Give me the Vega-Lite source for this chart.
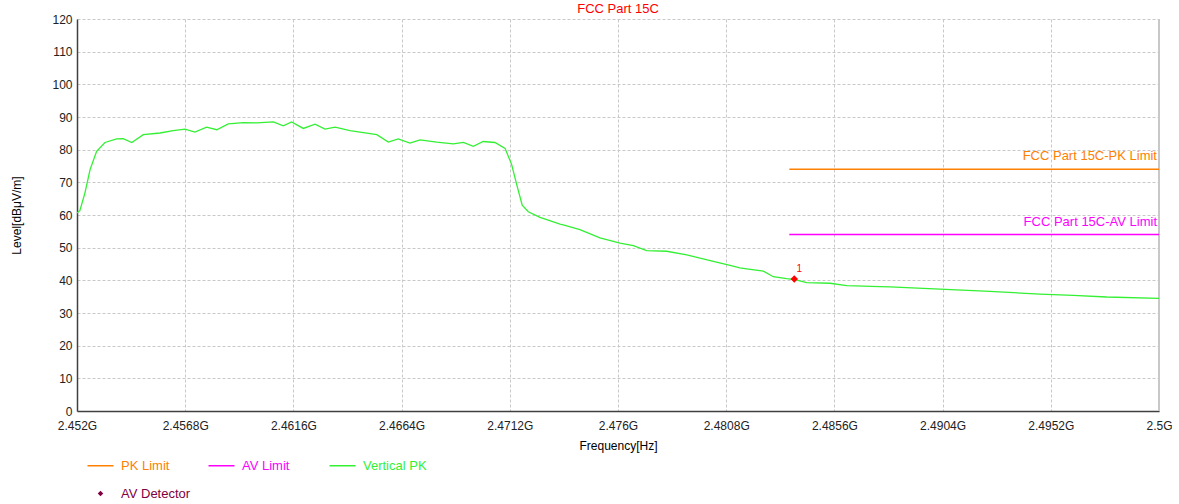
{
  "$schema": "https://vega.github.io/schema/vega-lite/v6.json",
  "width": 1082,
  "height": 392,
  "autosize": {"type": "none"},
  "padding": {"left": 77, "top": 19, "right": 20, "bottom": 93},
  "background": "white",
  "config": {
    "font": "Liberation Sans",
    "view": {"stroke": null},
    "axis": {
      "labelFont": "Liberation Sans",
      "labelFontSize": 12,
      "labelColor": "#222222",
      "titleFont": "Liberation Sans",
      "titleFontSize": 12,
      "titleFontWeight": "normal",
      "titleColor": "#000000",
      "gridColor": "#c8c8c8",
      "gridDash": [3, 2],
      "gridWidth": 1,
      "domainColor": "#404040",
      "domainWidth": 1.5,
      "ticks": false,
      "labelOverlap": false
    }
  },
  "title": {
    "text": "FCC Part 15C",
    "color": "#ff0000",
    "fontSize": 13,
    "fontWeight": "normal",
    "font": "Liberation Sans",
    "offset": -3
  },
  "datasets": {
    "trace": [
      {"f": 2.452, "level": 60.6, "series": "Vertical PK"},
      {"f": 2.45213, "level": 61.4, "series": "Vertical PK"},
      {"f": 2.45235, "level": 66.7, "series": "Vertical PK"},
      {"f": 2.45258, "level": 73.9, "series": "Vertical PK"},
      {"f": 2.45287, "level": 79.5, "series": "Vertical PK"},
      {"f": 2.45324, "level": 82.2, "series": "Vertical PK"},
      {"f": 2.45376, "level": 83.3, "series": "Vertical PK"},
      {"f": 2.45405, "level": 83.4, "series": "Vertical PK"},
      {"f": 2.45443, "level": 82.2, "series": "Vertical PK"},
      {"f": 2.45494, "level": 84.6, "series": "Vertical PK"},
      {"f": 2.45568, "level": 85.1, "series": "Vertical PK"},
      {"f": 2.45627, "level": 85.8, "series": "Vertical PK"},
      {"f": 2.45679, "level": 86.3, "series": "Vertical PK"},
      {"f": 2.45723, "level": 85.4, "series": "Vertical PK"},
      {"f": 2.45775, "level": 86.9, "series": "Vertical PK"},
      {"f": 2.4582, "level": 86.1, "series": "Vertical PK"},
      {"f": 2.45871, "level": 87.9, "series": "Vertical PK"},
      {"f": 2.45938, "level": 88.3, "series": "Vertical PK"},
      {"f": 2.45997, "level": 88.2, "series": "Vertical PK"},
      {"f": 2.46071, "level": 88.5, "series": "Vertical PK"},
      {"f": 2.46115, "level": 87.3, "series": "Vertical PK"},
      {"f": 2.46152, "level": 88.5, "series": "Vertical PK"},
      {"f": 2.46204, "level": 86.5, "series": "Vertical PK"},
      {"f": 2.46256, "level": 87.8, "series": "Vertical PK"},
      {"f": 2.463, "level": 86.3, "series": "Vertical PK"},
      {"f": 2.46345, "level": 86.9, "series": "Vertical PK"},
      {"f": 2.46411, "level": 85.8, "series": "Vertical PK"},
      {"f": 2.4653, "level": 84.6, "series": "Vertical PK"},
      {"f": 2.46581, "level": 82.3, "series": "Vertical PK"},
      {"f": 2.46625, "level": 83.3, "series": "Vertical PK"},
      {"f": 2.46677, "level": 82.0, "series": "Vertical PK"},
      {"f": 2.46722, "level": 83.0, "series": "Vertical PK"},
      {"f": 2.46796, "level": 82.3, "series": "Vertical PK"},
      {"f": 2.46869, "level": 81.8, "series": "Vertical PK"},
      {"f": 2.46914, "level": 82.2, "series": "Vertical PK"},
      {"f": 2.46958, "level": 81.0, "series": "Vertical PK"},
      {"f": 2.47002, "level": 82.5, "series": "Vertical PK"},
      {"f": 2.47054, "level": 82.2, "series": "Vertical PK"},
      {"f": 2.47099, "level": 80.4, "series": "Vertical PK"},
      {"f": 2.47128, "level": 75.5, "series": "Vertical PK"},
      {"f": 2.47151, "level": 69.2, "series": "Vertical PK"},
      {"f": 2.47175, "level": 63.0, "series": "Vertical PK"},
      {"f": 2.47202, "level": 61.0, "series": "Vertical PK"},
      {"f": 2.47254, "level": 59.3, "series": "Vertical PK"},
      {"f": 2.47284, "level": 58.6, "series": "Vertical PK"},
      {"f": 2.47343, "level": 57.2, "series": "Vertical PK"},
      {"f": 2.47357, "level": 57.0, "series": "Vertical PK"},
      {"f": 2.47431, "level": 55.5, "series": "Vertical PK"},
      {"f": 2.4752, "level": 53.0, "series": "Vertical PK"},
      {"f": 2.47609, "level": 51.4, "series": "Vertical PK"},
      {"f": 2.47668, "level": 50.6, "series": "Vertical PK"},
      {"f": 2.47727, "level": 49.1, "series": "Vertical PK"},
      {"f": 2.47816, "level": 48.9, "series": "Vertical PK"},
      {"f": 2.47905, "level": 47.8, "series": "Vertical PK"},
      {"f": 2.48023, "level": 45.8, "series": "Vertical PK"},
      {"f": 2.48097, "level": 44.6, "series": "Vertical PK"},
      {"f": 2.48141, "level": 43.8, "series": "Vertical PK"},
      {"f": 2.48171, "level": 43.5, "series": "Vertical PK"},
      {"f": 2.48245, "level": 42.8, "series": "Vertical PK"},
      {"f": 2.48289, "level": 41.1, "series": "Vertical PK"},
      {"f": 2.48348, "level": 40.5, "series": "Vertical PK"},
      {"f": 2.48385, "level": 40.2, "series": "Vertical PK"},
      {"f": 2.48437, "level": 39.3, "series": "Vertical PK"},
      {"f": 2.4854, "level": 39.1, "series": "Vertical PK"},
      {"f": 2.48615, "level": 38.4, "series": "Vertical PK"},
      {"f": 2.48762, "level": 38.1, "series": "Vertical PK"},
      {"f": 2.48807, "level": 38.0, "series": "Vertical PK"},
      {"f": 2.49028, "level": 37.3, "series": "Vertical PK"},
      {"f": 2.4925, "level": 36.6, "series": "Vertical PK"},
      {"f": 2.49472, "level": 35.8, "series": "Vertical PK"},
      {"f": 2.4962, "level": 35.4, "series": "Vertical PK"},
      {"f": 2.49768, "level": 34.9, "series": "Vertical PK"},
      {"f": 2.5, "level": 34.5, "series": "Vertical PK"}
    ],
    "limits": [
      {"name": "PK Limit", "f": 2.4836, "f2": 2.5, "level": 74, "label": "FCC Part 15C-PK Limit"},
      {"name": "AV Limit", "f": 2.4836, "f2": 2.5, "level": 54, "label": "FCC Part 15C-AV Limit"}
    ],
    "marker": [
      {"f": 2.48382, "level": 40.4, "label": "1"}
    ],
    "edge": [
      {"f": 2.5, "level": 0, "level2": 120}
    ]
  },
  "encoding": {
    "x": {
      "field": "f",
      "type": "quantitative",
      "scale": {"domain": [2.452, 2.5], "nice": false, "zero": false},
      "axis": {
        "title": "Frequency[Hz]",
        "values": [2.452, 2.4568, 2.4616, 2.4664, 2.4712, 2.476, 2.4808, 2.4856, 2.4904, 2.4952, 2.5],
        "labelExpr": "format(datum.value, '.4~f') + 'G'",
        "labelPadding": 9,
        "titlePadding": 9,
        "labelFlush": false,
        "labelOverlap": false
      }
    },
    "y": {
      "field": "level",
      "type": "quantitative",
      "scale": {"domain": [0, 120], "nice": false},
      "axis": {
        "title": "Level[dBμV/m]",
        "values": [0, 10, 20, 30, 40, 50, 60, 70, 80, 90, 100, 110, 120],
        "labelOverlap": false,
        "labelPadding": 5,
        "titlePadding": 28
      }
    }
  },
  "layer": [
    {
      "data": {"name": "edge"},
      "mark": {"type": "rule", "color": "#c8c8c8", "strokeWidth": 2},
      "encoding": {
        "y2": {"field": "level2"}
      }
    },
    {
      "data": {"name": "trace"},
      "mark": {"type": "line", "strokeWidth": 1.3, "clip": true},
      "encoding": {
        "color": {
          "field": "series",
          "type": "nominal",
          "scale": {
            "domain": ["PK Limit", "AV Limit", "Vertical PK", "AV Detector"],
            "range": ["#ff8000", "#ff00ff", "#33f033", "#800040"]
          },
          "legend": {
            "title": null,
            "orient": "none",
            "legendX": 17,
            "legendY": 440,
            "direction": "horizontal",
            "columns": 3,
            "gridAlign": "all",
            "columnPadding": 14,
            "rowPadding": 14,
            "symbolType": "stroke",
            "symbolSize": 676,
            "symbolStrokeWidth": 1.5,
            "labelFontSize": 13,
            "labelFont": "Liberation Sans",
            "labelOffset": 14,
            "encode": {
              "symbols": {
                "update": {
                  "shape": {"signal": "datum.value === 'AV Detector' ? 'diamond' : 'stroke'"},
                  "size": {"signal": "datum.value === 'AV Detector' ? 30 : 676"},
                  "fill": {"signal": "datum.value === 'AV Detector' ? '#800040' : 'transparent'"},
                  "strokeWidth": {"signal": "datum.value === 'AV Detector' ? 0 : 1.5"}
                }
              },
              "labels": {
                "update": {
                  "fill": {"scale": "color", "field": "value"}
                }
              }
            }
          }
        }
      }
    },
    {
      "data": {"name": "limits"},
      "mark": {"type": "rule", "strokeWidth": 1.5},
      "encoding": {
        "x2": {"field": "f2"},
        "color": {"field": "name", "type": "nominal"}
      }
    },
    {
      "data": {"name": "limits"},
      "mark": {"type": "text", "align": "right", "baseline": "middle", "dx": -2, "dy": -13, "fontSize": 13, "font": "Liberation Sans"},
      "encoding": {
        "x": {"field": "f2", "type": "quantitative"},
        "text": {"field": "label"},
        "color": {"field": "name", "type": "nominal"}
      }
    },
    {
      "data": {"name": "marker"},
      "mark": {"type": "point", "shape": "diamond", "filled": true, "color": "#ff0000", "size": 55, "opacity": 1}
    },
    {
      "data": {"name": "marker"},
      "mark": {"type": "text", "color": "#ff0000", "dx": 5, "dy": -10, "fontSize": 10, "font": "Liberation Sans"},
      "encoding": {
        "text": {"field": "label"}
      }
    }
  ]
}
